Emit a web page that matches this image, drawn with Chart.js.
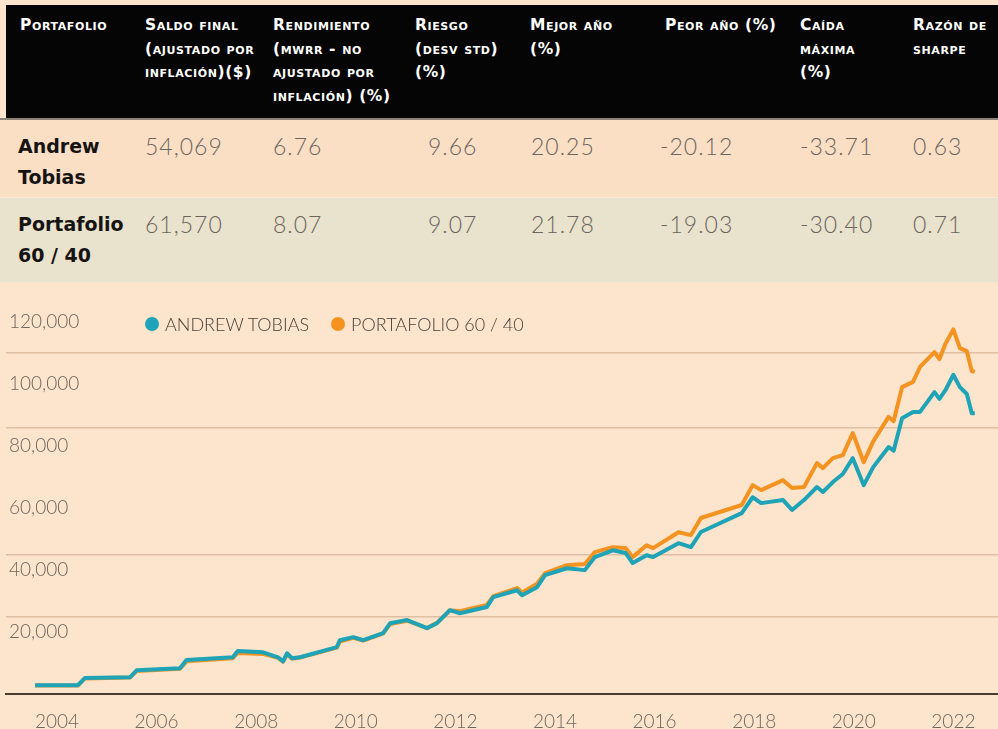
<!DOCTYPE html>
<html lang="es">
<head>
<meta charset="UTF-8">
<title>Andrew Tobias vs Portafolio 60 / 40</title>
<script src="https://cdn.jsdelivr.net/npm/chart.js@4.4.0/dist/chart.umd.min.js"></script>
<style>
  body { margin: 0; width: 998px; height: 729px; overflow: hidden; position: relative; background: #fce4cd; font-family: Lato, sans-serif; }
  .head { position: absolute; left: 6px; top: 5px; width: 992px; height: 113px; background: #050505; }
  .h { position: absolute; top: 14px; color: #fff; font-family: "DejaVu Sans", sans-serif; font-weight: 700; font-size: 15.5px; font-variant: small-caps; letter-spacing: 0.6px; line-height: 23.5px; white-space: nowrap; }
  .row1 { position: absolute; left: 0; top: 118px; width: 998px; height: 79px; background: #fbdfc5; border-top: 2px solid #8d8379; box-sizing: border-box; }
  .row2 { position: absolute; left: 0; top: 197px; width: 998px; height: 85px; background: #e9e2cc; border-top: 1px solid #f4eadc; box-sizing: border-box; }
  .name { position: absolute; left: 18px; font-family: "DejaVu Sans", sans-serif; font-weight: 700; font-size: 19px; line-height: 31px; color: #161412; white-space: nowrap; }
  .val { position: absolute; font-family: Lato, sans-serif; font-weight: 300; font-size: 23px; letter-spacing: 1px; line-height: 31px; color: #6b6560; white-space: nowrap; }
  #legend { position: absolute; left: 145px; top: 313px; display: flex; align-items: center; font-family: Lato, sans-serif; font-weight: 300; font-size: 18px; color: #4a413a; white-space: nowrap; }
  .dot { width: 14px; height: 14px; border-radius: 50%; margin-right: 6px; }
  #wrap { position: absolute; left: 0; top: 282px; width: 998px; height: 467px; }
</style>
</head>
<body>
  <div class="head"></div>
  <div class="h" style="left:20px">Portafolio</div>
  <div class="h" style="left:145px">Saldo final<br>(ajustado por<br>inflación)($)</div>
  <div class="h" style="left:273px">Rendimiento<br>(mwrr - no<br>ajustado por<br>inflación) (%)</div>
  <div class="h" style="left:415px">Riesgo<br>(desv std)<br>(%)</div>
  <div class="h" style="left:530px">Mejor año<br>(%)</div>
  <div class="h" style="left:665px">Peor año (%)</div>
  <div class="h" style="left:800px">Caída<br>máxima<br>(%)</div>
  <div class="h" style="left:913px">Razón de<br>sharpe</div>

  <div class="row1"></div>
  <div class="row2"></div>
  <div id="rows"></div>

  <div id="wrap"><canvas id="myChart" width="998" height="467"></canvas></div>

  <div id="legend">
    <span class="dot" style="background:#1fa3b6"></span><span>ANDREW TOBIAS</span>
    <span class="dot" style="background:#f4931f;margin-left:22px"></span><span>PORTAFOLIO 60 / 40</span>
  </div>

<script>
// table
var tableRows = [
  { name: 'Andrew<br>Tobias', top: 131, vals: ['54,069', '6.76', '9.66', '20.25', '-20.12', '-33.71', '0.63'] },
  { name: 'Portafolio<br>60 / 40', top: 209, vals: ['61,570', '8.07', '9.07', '21.78', '-19.03', '-30.40', '0.71'] }
];
var valueLeft = [145, 273, 428, 531, 660, 800, 913];

var rowsDiv = document.getElementById('rows');
tableRows.forEach(function (r) {
  var n = document.createElement('div');
  n.className = 'name';
  n.style.top = r.top + 'px';
  n.innerHTML = r.name;
  rowsDiv.appendChild(n);
  r.vals.forEach(function (v, i) {
    var d = document.createElement('div');
    d.className = 'val';
    d.style.top = r.top + 'px';
    d.style.left = valueLeft[i] + 'px';
    d.textContent = v;
    rowsDiv.appendChild(d);
  });
});

// chart data (decimal years, balance in $)
var years = [2003.56, 2004.42, 2004.56, 2005.47, 2005.60, 2006.47, 2006.60, 2007.53, 2007.63, 2008.14,
  2008.44, 2008.54, 2008.62, 2008.72, 2008.88, 2009.62, 2009.68, 2009.95, 2010.15, 2010.55,
  2010.69, 2011.03, 2011.43, 2011.63, 2011.89, 2012.09, 2012.63, 2012.76, 2013.24, 2013.34,
  2013.64, 2013.80, 2014.24, 2014.60, 2014.80, 2015.16, 2015.42, 2015.56, 2015.84, 2015.97,
  2016.48, 2016.73, 2016.93, 2017.75, 2017.97, 2018.14, 2018.58, 2018.76, 2019.00, 2019.26,
  2019.38, 2019.58, 2019.78, 2019.98, 2020.20, 2020.39, 2020.70, 2020.80, 2020.97, 2021.19,
  2021.33, 2021.62, 2021.72, 2021.84, 2022.00, 2022.13, 2022.27, 2022.37, 2022.43];

var andrewTobias = [2900, 2900, 5200, 5500, 7700, 8400, 11000, 11900, 13900, 13500,
  11900, 10600, 13200, 11600, 11900, 15200, 17400, 18400, 17400, 19700,
  22900, 23900, 21300, 22900, 27100, 26100, 28100, 31300, 33500, 31900,
  34500, 38400, 40600, 40000, 44200, 46400, 45500, 42300, 44800, 44200,
  48700, 47400, 52300, 58400, 63500, 61600, 62600, 59400, 62600, 66800,
  65200, 68400, 71000, 76100, 67400, 73200, 79700, 78500, 89000, 91000,
  91000, 97400, 95200, 98000, 103000, 99000, 96800, 90600, 90600];

var portafolio6040 = [2800, 2800, 5100, 5400, 7500, 8200, 10600, 11600, 13300, 13000,
  11700, 10500, 12800, 11400, 11800, 15000, 17000, 18200, 17300, 19600,
  22600, 23700, 21300, 23000, 27000, 26800, 28800, 31600, 34200, 32800,
  35600, 39000, 41600, 42000, 45800, 47400, 47100, 44200, 48000, 47100,
  52200, 51300, 56800, 61000, 67400, 65800, 69000, 66500, 66800, 74500,
  72900, 76100, 77100, 84200, 74800, 81500, 89400, 88000, 99000, 100700,
  105500, 110300, 108000, 113000, 117600, 111600, 110600, 104200, 103900];

var yTicks = [20000, 40000, 60000, 80000, 100000, 120000];
var xTicks = [2004, 2006, 2008, 2010, 2012, 2014, 2016, 2018, 2020, 2022];
var gridValues = [25000, 45000, 86000, 110000];

function points(vals) {
  return years.map(function (x, i) { return { x: x, y: vals[i] }; });
}

var tickFont = { family: 'Lato', weight: '300', size: 19 };

var ctx = document.getElementById('myChart').getContext('2d');
var myChart = new Chart(ctx, {
  type: 'line',
  data: {
    datasets: [
      { label: 'ANDREW TOBIAS', data: points(andrewTobias), borderColor: '#1fa3b6', borderWidth: 4, pointRadius: 0, tension: 0, borderJoinStyle: 'round' },
      { label: 'PORTAFOLIO 60 / 40', data: points(portafolio6040), borderColor: '#f4931f', borderWidth: 4, pointRadius: 0, tension: 0, borderJoinStyle: 'round' }
    ]
  },
  options: {
    responsive: false,
    animation: false,
    layout: { padding: { top: 40, left: 0, right: 0, bottom: 0 } },
    plugins: { legend: { display: false }, tooltip: { enabled: false } },
    scales: {
      x: {
        type: 'linear', min: 2002.976, max: 2022.896,
        grid: { display: false, drawTicks: false },
        border: { color: '#4a3b30', width: 2 },
        afterBuildTicks: function (axis) { axis.ticks = xTicks.map(function (v) { return { value: v }; }); },
        ticks: { font: tickFont, color: '#6e665e', padding: 16, maxRotation: 0, autoSkip: false, callback: function (v) { return String(v); } }
      },
      y: {
        position: 'left', min: 0, max: 120000,
        grid: { display: false, drawTicks: false },
        border: { display: false },
        afterBuildTicks: function (axis) { axis.ticks = yTicks.map(function (v) { return { value: v }; }); },
        ticks: { mirror: true, padding: 3, font: tickFont, color: '#6e665e', callback: function (v) { return v.toLocaleString('en-US'); } }
      },
      yg: {
        position: 'left', min: 0, max: 120000,
        border: { display: false },
        grid: { color: 'rgba(170,125,90,0.35)', lineWidth: 1.5, drawTicks: false },
        afterBuildTicks: function (axis) { axis.ticks = gridValues.map(function (v) { return { value: v }; }); },
        ticks: { display: false }
      }
    }
  }
});
</script>
</body>
</html>
